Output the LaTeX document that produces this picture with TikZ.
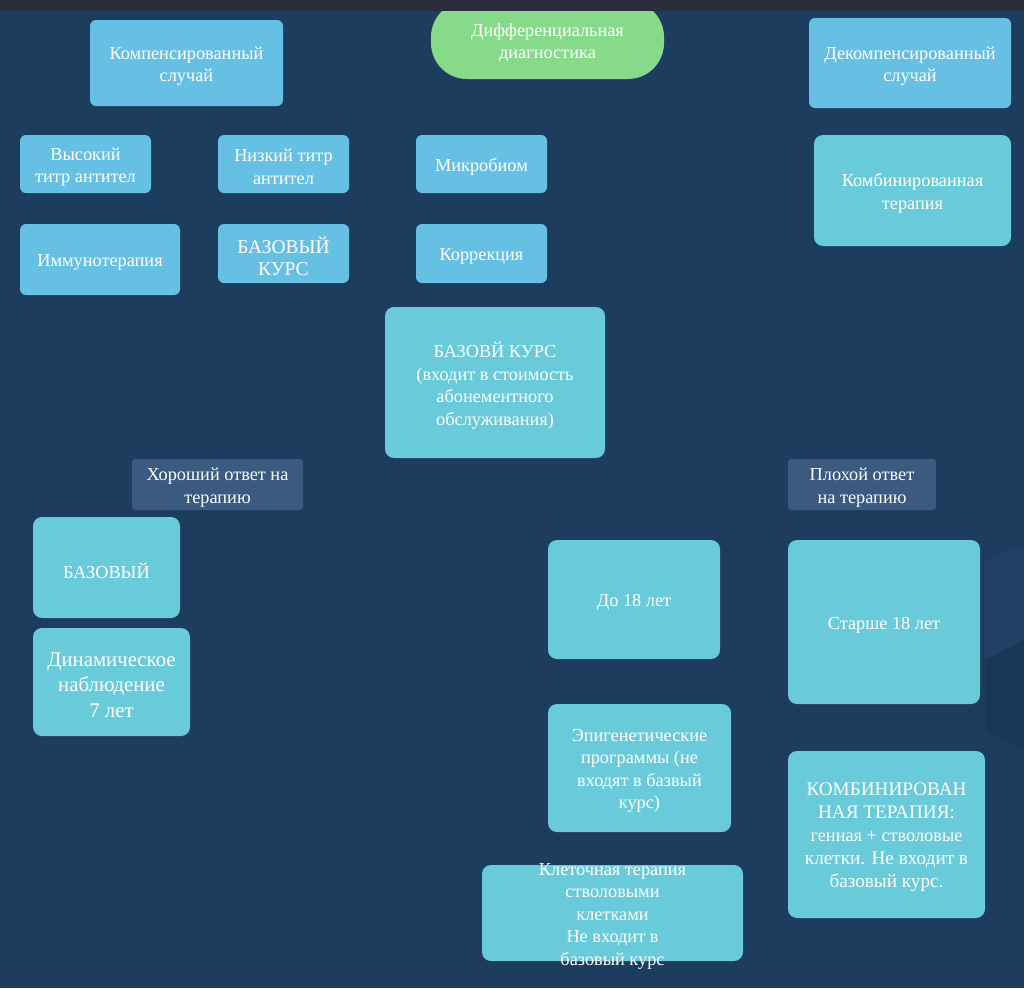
\documentclass[tikz,border=0pt]{standalone}
\usepackage{fontspec}
\setmainfont{Liberation Serif}
\definecolor{bg}{HTML}{1C3D5E}
\definecolor{topbar}{HTML}{2A2E3A}
\definecolor{lblue}{HTML}{66C0E3}
\definecolor{teal}{HTML}{69CAD9}
\definecolor{green}{HTML}{86DA8A}
\definecolor{lab}{HTML}{3A5B7F}
\definecolor{bglight}{HTML}{2A4D72}
\definecolor{bgdark}{HTML}{163452}
\newcommand{\fsz}[2]{\fontsize{#1}{#2}\selectfont}
\tikzset{
  base/.style={rectangle, rounded corners=6pt, inner sep=0pt},
  bluebox/.style={base, fill=lblue},
  tealbox/.style={base, fill=teal, rounded corners=9pt},
  labbox/.style={base, fill=lab, rounded corners=3pt},
  greenbox/.style={base, fill=green, rounded corners=36pt},
  txt/.style={text=white, align=center, inner sep=0pt, font=\fsz{18.3}{22.5}},
}
% \bx[text options]{box style}{name}{cx}{cy}{w}{h}{text}
\newcommand{\bx}[8][]{%
  \node[#2, minimum width=#5pt, minimum height=#6pt] (#3) at (#4) {};
  \node[txt, #1] (#3-t) at ([yshift=-3pt]#3.center) {#8};}
\begin{document}
\begin{tikzpicture}[x=1pt,y=-1pt]
\useasboundingbox (0,0) rectangle (1024,988);
\fill[bg] (0,0) rectangle (1024,988);
% faint background photo hint on the right
\fill[bglight, opacity=0.3] (985,560) -- (1024,545) -- (1024,640) -- (985,660) -- cycle;
\fill[bgdark, opacity=0.45] (985,660) -- (1024,640) -- (1024,750) -- (985,730) -- cycle;
% title
\bx{greenbox}{diag}{547.5,40}{233}{78}{}{Дифференциальная\\диагностика}
\fill[topbar] (0,0) rectangle (1024,11);
% top row
\bx{bluebox}{komp}{186.5,63}{193}{86}{}{Компенсированный\\случай}
\bx{bluebox}{dekomp}{910,63}{202}{90}{}{Декомпенсированный\\случай}
% second row
\bx{bluebox}{vys}{85.5,164}{131}{58}{}{Высокий\\титр антител}
\bx{bluebox}{niz}{283.5,164}{131}{58}{}{Низкий титр\\антител}
\bx{bluebox}{mikro}{481.5,164}{131}{58}{}{Микробиом}
\bx{tealbox}{kombi}{912.5,190.5}{197}{111}{}{Комбинированная\\терапия}
% third row
\bx{bluebox}{immuno}{100,259.5}{160}{71}{}{Иммунотерапия}
\bx[font=\fsz{19.5}{22}]{bluebox}{bazkurs}{283.5,253.5}{131}{59}{}{БАЗОВЫЙ\\КУРС}
\bx{bluebox}{korr}{481.5,253.5}{131}{59}{}{Коррекция}
% big base
\bx{tealbox}{bigbase}{495,382.5}{220}{151}{}{БАЗОВЙ КУРС\\(входит в стоимость\\абонементного\\обслуживания)}
% labels
\bx{labbox}{good}{217.5,484.5}{171}{51}{}{Хороший ответ на\\терапию}
\bx{labbox}{bad}{862,484.5}{148}{51}{}{Плохой ответ\\на терапию}
% left column
\bx{tealbox}{baz}{106.5,567.5}{147}{101}{}{БАЗОВЫЙ}
\bx[font=\fsz{20.8}{25.5}]{tealbox}{dinam}{111.5,682}{157}{108}{}{Динамическое\\наблюдение\\7 лет}
% right side
\bx{tealbox}{do18}{634,599.5}{172}{119}{}{До 18 лет}
\bx{tealbox}{st18}{884,622}{192}{164}{}{Старше 18 лет}
\bx{tealbox}{epi}{639.5,768}{183}{128}{}{Эпигенетические\\программы (не\\входят в базвый\\курс)}
\bx[font=\fsz{19.2}{23}]{tealbox}{kombi2}{886.5,834.5}{197}{167}{}{КОМБИНИРОВАН\\НАЯ ТЕРАПИЯ:\\\fsz{18.3}{22.5}генная + стволовые\\клетки. Не входит в\\базовый курс.}
\bx{tealbox}{klet}{612.5,913}{261}{96}{}{Клеточная терапия\\стволовыми\\клетками\\Не входит в\\базовый курс}
\end{tikzpicture}
\end{document}
